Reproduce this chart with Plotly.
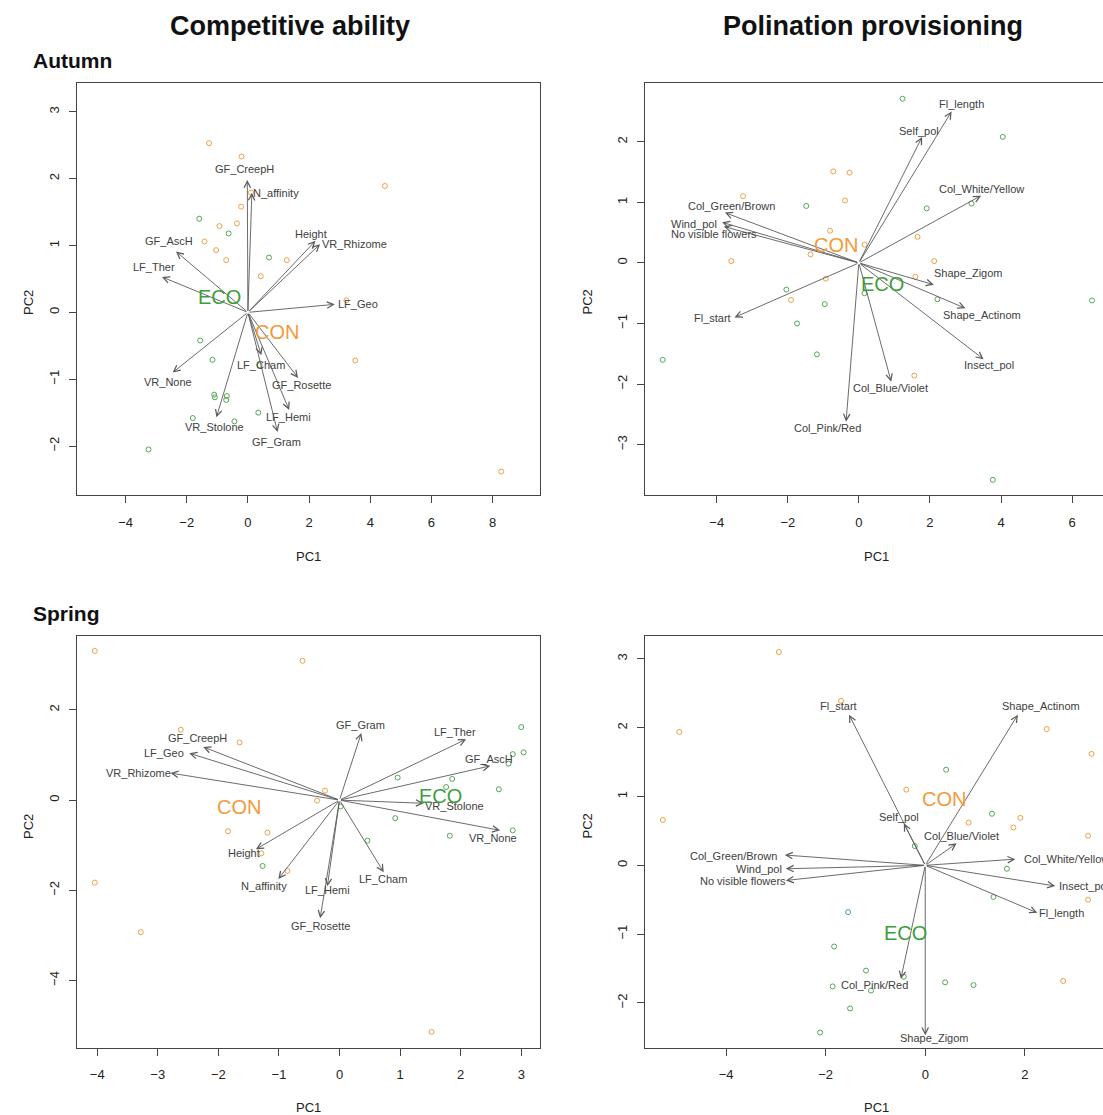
import plotly.graph_objects as go

FONT = "Liberation Sans, Arial, sans-serif"
ORANGE_PT = "#EBA24C"
GREEN_PT = "#55A655"
ORANGE_TX = "#F29A3A"
GREEN_TX = "#3E9E3E"
ARROW_C = "#5A5A5A"
TEXT_C = "#404040"

# ---------------- Panel 1: Competitive ability, Autumn ----------------
p1_con_x = [-1.27, -0.21, 4.48, 0.10, -0.22, -0.93, -0.36, -1.42, -1.04, -0.71, 1.27, 0.42, 3.22, 3.51, 8.28]
p1_con_y = [2.53, 2.33, 1.89, 1.79, 1.58, 1.29, 1.33, 1.06, 0.93, 0.78, 0.78, 0.54, 0.18, -0.72, -2.38]
p1_eco_x = [-1.59, -0.63, 0.69, -1.56, -1.16, -1.10, -1.08, -0.69, -0.71, 0.34, -1.80, -0.44, -3.25, 0.38]
p1_eco_y = [1.40, 1.18, 0.82, -0.42, -0.71, -1.23, -1.27, -1.25, -1.31, -1.50, -1.58, -1.63, -2.05, -0.79]
p1_vars = ["GF_CreepH", "N_affinity", "Height", "VR_Rhizome", "GF_AscH", "LF_Ther", "LF_Geo",
           "VR_None", "LF_Cham", "GF_Rosette", "LF_Hemi", "VR_Stolone", "GF_Gram"]
p1_tip_x = [-0.02, 0.13, 2.21, 2.36, -2.35, -2.81, 2.84, -2.46, 0.44, 1.64, 1.35, -1.03, 0.97]
p1_tip_y = [1.98, 1.79, 1.07, 1.02, 0.91, 0.53, 0.12, -0.90, -0.64, -0.98, -1.46, -1.57, -1.79]
p1_lab_x = [-0.10, 0.93, 2.06, 3.47, -2.57, -3.06, 3.59, -2.60, 0.44, 1.75, 1.32, -1.08, 0.95]
p1_lab_y = [2.14, 1.78, 1.17, 1.02, 1.07, 0.68, 0.12, -1.04, -0.79, -1.08, -1.57, -1.72, -1.94]
p1_grp = {"ECO": (-0.94, 0.23), "CON": (0.95, -0.29)}

# ---------------- Panel 2: Polination provisioning, Autumn ----------------
p2_con_x = [-0.72, -0.26, -3.26, -0.39, -0.81, 1.65, 0.16, -1.36, -3.59, 2.12, -0.93, 1.59, -1.91, 1.56]
p2_con_y = [1.51, 1.49, 1.10, 1.03, 0.53, 0.43, 0.30, 0.14, 0.03, 0.03, -0.26, -0.23, -0.61, -1.86]
p2_eco_x = [1.23, 4.05, -1.48, 1.91, 3.17, -2.04, 0.16, 2.21, 6.56, -0.96, -1.74, -1.18, -5.52, 3.77]
p2_eco_y = [2.71, 2.08, 0.94, 0.90, 0.98, -0.44, -0.50, -0.60, -0.62, -0.68, -1.00, -1.51, -1.60, -3.58]
p2_vars = ["Fl_length", "Self_pol", "Col_White/Yellow", "Col_Green/Brown", "Wind_pol", "No visible flowers",
           "Shape_Zigom", "Shape_Actinom", "Insect_pol", "Col_Blue/Violet", "Col_Pink/Red", "Fl_start"]
p2_tip_x = [2.61, 1.78, 3.44, -3.77, -3.85, -3.80, 2.11, 3.00, 3.51, 0.91, -0.36, -3.50]
p2_tip_y = [2.50, 2.08, 1.11, 0.83, 0.67, 0.60, -0.36, -0.75, -1.59, -1.96, -2.62, -0.90]
p2_lab_x = [2.90, 1.69, 3.44, -3.59, -4.65, -4.09, 3.08, 3.47, 3.65, 0.88, -0.88, -4.13]
p2_lab_y = [2.63, 2.18, 1.22, 0.94, 0.65, 0.48, -0.17, -0.86, -1.69, -2.06, -2.72, -0.91]
p2_grp = {"CON": (-0.65, 0.29), "ECO": (0.66, -0.35)}

# ---------------- Panel 3: Competitive ability, Spring ----------------
p3_con_x = [-4.04, -0.61, -2.62, -1.65, -0.24, -0.37, -1.84, -1.19, -1.29, -0.86, -4.04, -3.28, 1.52]
p3_con_y = [3.31, 3.09, 1.56, 1.28, 0.21, -0.01, -0.69, -0.72, -1.18, -1.57, -1.83, -2.93, -5.14]
p3_eco_x = [3.00, 3.04, 2.86, 2.79, 0.96, 1.86, 1.76, 2.63, 0.02, 0.92, 2.86, 1.82, 0.46, -1.27]
p3_eco_y = [1.62, 1.06, 1.02, 0.81, 0.50, 0.47, 0.29, 0.24, -0.14, -0.40, -0.67, -0.79, -0.90, -1.46]
p3_vars = ["GF_Gram", "LF_Ther", "GF_AscH", "GF_CreepH", "LF_Geo", "VR_Rhizome", "VR_Stolone",
           "VR_None", "Height", "N_affinity", "LF_Hemi", "LF_Cham", "GF_Rosette"]
p3_tip_x = [0.36, 2.09, 2.49, -2.25, -2.48, -2.79, 1.39, 2.65, -1.38, -1.01, -0.20, 0.73, -0.32]
p3_tip_y = [1.49, 1.35, 0.76, 1.18, 1.04, 0.60, -0.07, -0.67, -1.09, -1.75, -1.91, -1.60, -2.62]
p3_lab_x = [0.35, 1.90, 2.46, -2.35, -2.89, -3.32, 1.90, 2.53, -1.57, -1.24, -0.20, 0.72, -0.32]
p3_lab_y = [1.66, 1.51, 0.91, 1.37, 1.04, 0.60, -0.13, -0.83, -1.18, -1.90, -2.00, -1.75, -2.79]
p3_grp = {"CON": (-1.66, -0.16), "ECO": (1.67, 0.10)}

# ---------------- Panel 4: Polination provisioning, Spring ----------------
p4_con_x = [-2.94, -4.94, -1.69, 2.44, 3.34, -5.27, -0.38, 0.87, 1.77, 1.91, 3.27, 3.27, 2.77]
p4_con_y = [3.10, 1.94, 2.39, 1.98, 1.62, 0.66, 1.10, 0.62, 0.55, 0.69, 0.43, -0.50, -1.68]
p4_eco_x = [0.42, 1.34, -0.21, 1.64, 1.37, -1.55, -1.83, -1.19, -0.43, -1.86, -1.09, 0.40, 0.97, -1.51, -2.11]
p4_eco_y = [1.39, 0.75, 0.28, -0.05, -0.46, -0.68, -1.18, -1.53, -1.62, -1.76, -1.82, -1.70, -1.74, -2.08, -2.43]
p4_vars = ["Fl_start", "Shape_Actinom", "Self_pol", "Col_Blue/Violet", "Col_Green/Brown", "Wind_pol",
           "No visible flowers", "Col_White/Yellow", "Insect_pol", "Fl_length", "Col_Pink/Red", "Shape_Zigom"]
p4_tip_x = [-1.53, 1.86, -0.43, 0.63, -2.82, -2.80, -2.80, 1.81, 2.61, 2.25, -0.49, 0.00]
p4_tip_y = [2.19, 2.19, 0.61, 0.32, 0.15, -0.05, -0.22, 0.09, -0.30, -0.69, -1.65, -2.47]
p4_lab_x = [-1.74, 2.33, -0.52, 0.72, -3.85, -3.33, -3.67, 2.83, 3.19, 2.74, -1.01, 0.19]
p4_lab_y = [2.31, 2.31, 0.70, 0.42, 0.14, -0.05, -0.23, 0.09, -0.30, -0.69, -1.74, -2.51]
p4_grp = {"CON": (0.38, 0.96), "ECO": (-0.40, -0.99)}

# panel layout: (axis suffix, x domain, y domain, x range, y range, x ticks, y ticks, full box)
panels = [
    ("", [0.0700, 0.4896], [0.5561, 0.9256], [-5.58, 9.55], [-2.73, 3.43],
     [-4, -2, 0, 2, 4, 6, 8], [-2, -1, 0, 1, 2, 3], True,
     p1_con_x, p1_con_y, p1_eco_x, p1_eco_y, p1_vars, p1_tip_x, p1_tip_y, p1_lab_x, p1_lab_y, p1_grp),
    ("2", [0.5847, 1.0], [0.5561, 0.9256], [-6.02, 6.87], [-3.83, 2.97],
     [-4, -2, 0, 2, 4, 6], [-3, -2, -1, 0, 1, 2], False,
     p2_con_x, p2_con_y, p2_eco_x, p2_eco_y, p2_vars, p2_tip_x, p2_tip_y, p2_lab_x, p2_lab_y, p2_grp),
    ("3", [0.0700, 0.4896], [0.0604, 0.4300], [-4.33, 3.31], [-5.49, 3.65],
     [-4, -3, -2, -1, 0, 1, 2, 3], [-4, -2, 0, 2], True,
     p3_con_x, p3_con_y, p3_eco_x, p3_eco_y, p3_vars, p3_tip_x, p3_tip_y, p3_lab_x, p3_lab_y, p3_grp),
    ("4", [0.5847, 1.0], [0.0604, 0.4300], [-5.63, 3.57], [-2.65, 3.34],
     [-4, -2, 0, 2], [-2, -1, 0, 1, 2, 3], False,
     p4_con_x, p4_con_y, p4_eco_x, p4_eco_y, p4_vars, p4_tip_x, p4_tip_y, p4_lab_x, p4_lab_y, p4_grp),
]

fig = go.Figure()
annotations = []
layout = {}

for (suf, xd, yd, xr, yr, xt, yt, fullbox,
     cx, cy, ex, ey, names, tx, ty, lx, ly, grp) in panels:
    xa = "x" + suf
    ya = "y" + suf
    fig.add_trace(go.Scatter(x=cx, y=cy, mode="markers", xaxis=xa, yaxis=ya, showlegend=False,
                             marker=dict(symbol="circle-open", size=5, color=ORANGE_PT, line=dict(width=1))))
    fig.add_trace(go.Scatter(x=ex, y=ey, mode="markers", xaxis=xa, yaxis=ya, showlegend=False,
                             marker=dict(symbol="circle-open", size=5, color=GREEN_PT, line=dict(width=1))))
    for n, x1, y1, x2, y2 in zip(names, tx, ty, lx, ly):
        annotations.append(dict(x=x1, y=y1, ax=0, ay=0, xref=xa, yref=ya, axref=xa, ayref=ya,
                                text="", showarrow=True, arrowhead=5, arrowsize=1.4,
                                arrowwidth=0.9, arrowcolor=ARROW_C, standoff=0, startstandoff=0))
        annotations.append(dict(x=x2, y=y2, xref=xa, yref=ya, text=n, showarrow=False,
                                font=dict(family=FONT, size=11, color=TEXT_C)))
    for g, (gx, gy) in grp.items():
        annotations.append(dict(x=gx, y=gy, xref=xa, yref=ya, text=g, showarrow=False,
                                font=dict(family=FONT, size=20,
                                          color=ORANGE_TX if g == "CON" else GREEN_TX)))
    key_x = "xaxis" + suf
    key_y = "yaxis" + suf
    layout[key_x] = dict(domain=xd, range=xr, anchor=ya, tickvals=xt, ticks="outside", ticklen=7,
                         tickcolor="#444", tickwidth=1, showline=True, linecolor="#444", linewidth=1,
                         mirror=True, showgrid=False, zeroline=False, ticklabelstandoff=8,
                         tickfont=dict(family=FONT, size=13, color="#222"))
    layout[key_y] = dict(domain=yd, range=yr, anchor=xa, tickvals=yt, ticks="outside", ticklen=7,
                         tickcolor="#444", tickwidth=1, showline=True, linecolor="#444", linewidth=1,
                         mirror=True if fullbox else False, showgrid=False, zeroline=False,
                         tickangle=-90, ticklabelstandoff=5,
                         tickfont=dict(family=FONT, size=13, color="#222"))

W, H = 1103, 1115
# titles and axis titles (paper coords)
def px(xp, yp):
    return xp / W, 1 - yp / H

for text, xp, yp, size, bold, anchor in [
    ("Competitive ability", 290, 26, 27, True, "center"),
    ("Polination provisioning", 873, 26, 27, True, "center"),
    ("Autumn", 31, 60, 21, True, "left"),
    ("Spring", 31, 613, 21, True, "left"),
    ("PC1", 308, 556, 13, False, "center"),
    ("PC1", 876, 556, 13, False, "center"),
    ("PC1", 308, 1107, 13, False, "center"),
    ("PC1", 876, 1107, 13, False, "center"),
]:
    xx, yy = px(xp, yp)
    annotations.append(dict(x=xx, y=yy, xref="paper", yref="paper", xanchor=anchor, yanchor="middle",
                            text=("<b>%s</b>" % text) if bold else text, showarrow=False,
                            font=dict(family=FONT, size=size, color="#111" if bold else "#222")))
for xp, yp in [(19, 288), (587, 288), (19, 841), (587, 841)]:
    xx, yy = px(xp, yp)
    annotations.append(dict(x=xx, y=yy, xref="paper", yref="paper", text="PC2", textangle=-90,
                            showarrow=False, font=dict(family=FONT, size=13, color="#222")))

fig.update_layout(width=W, height=H, margin=dict(l=0, r=0, t=0, b=0), autosize=False,
                  paper_bgcolor="white", plot_bgcolor="white", annotations=annotations, **layout)
fig.write_html("out.html", config={"displayModeBar": False},
               post_script="document.body.style.margin='0';document.body.style.overflow='hidden';")
